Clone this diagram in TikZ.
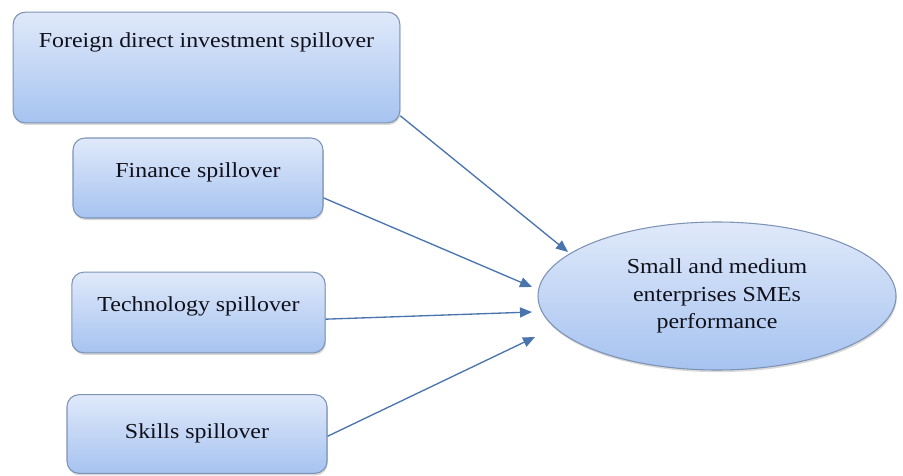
\documentclass[tikz,border=0pt]{standalone}
\usepackage{fontspec}
\setmainfont{Liberation Serif}[FakeStretch=1.12]
\usepackage{xcolor}
\usepackage{tikz}
\usetikzlibrary{shapes,arrows}
\usetikzlibrary{arrows.meta}
\usetikzlibrary{shadows}

\definecolor{boxtop}{HTML}{E0E9FA}
\definecolor{boxbottom}{HTML}{A6C3F0}
\definecolor{boxline}{HTML}{7D93B6}
\definecolor{arrowline}{HTML}{4A74AE}
\definecolor{boxtext}{HTML}{10101A}

\begin{document}
\begin{tikzpicture}[x=0.75pt, y=-0.75pt]
\tikzstyle{shadeblue}=[shade, top color=boxtop, bottom color=boxbottom]
\tikzstyle{boxborder}=[draw=boxline, line width=0.8pt]
\tikzstyle{softshadow}=[drop shadow={shadow xshift=0.6pt, shadow yshift=-1.6pt, opacity=0.25, fill=black!60}]
\tikzstyle{label}=[text=boxtext, font=\fontsize{16pt}{20.5pt}\selectfont, align=center]
\tikzstyle{spillbox}=[shadeblue, boxborder, softshadow, label, rectangle, rounded corners=9pt, inner sep=0pt, text height=11.2pt]
\tikzstyle{outcome}=[shadeblue, boxborder, softshadow, label, ellipse, inner sep=0pt, minimum width=268.5pt, minimum height=111pt]
\tikzstyle{effect}=[draw=arrowline, line width=1pt, -{Triangle[length=9pt, width=7.5pt]}]

\useasboundingbox (0,0) rectangle (903,475);

% Spillover channels
\node[spillbox, minimum width=290pt, minimum height=83pt, text depth=41pt] (fdi) at (206.5,67.5) {Foreign direct investment spillover};
\node[spillbox, minimum width=187.5pt, minimum height=60pt, text depth=12.6pt] (finance) at (198,178) {Finance spillover};
\node[spillbox, minimum width=190pt, minimum height=60.5pt, text depth=12.6pt] (technology) at (198.5,312.5) {Technology spillover};
\node[spillbox, minimum width=195pt, minimum height=59pt, text depth=5pt] (skills) at (197,434) {Skills spillover};

% Outcome
\node[outcome] (sme) at (717,296) {Small and medium\\enterprises SMEs\\performance};

\coordinate (tip-fdi) at (568,252);
\coordinate (tip-finance) at (532,287);
\coordinate (tip-technology) at (532,312);
\coordinate (tip-skills) at (535,337);

\path[effect] (fdi.-14) -- (tip-fdi);
\path[effect] (finance.-9) -- (tip-finance);
\path[effect] (technology.-3.4) -- (tip-technology);
\path[effect] (skills.-1) -- (tip-skills);
\end{tikzpicture}
\end{document}
